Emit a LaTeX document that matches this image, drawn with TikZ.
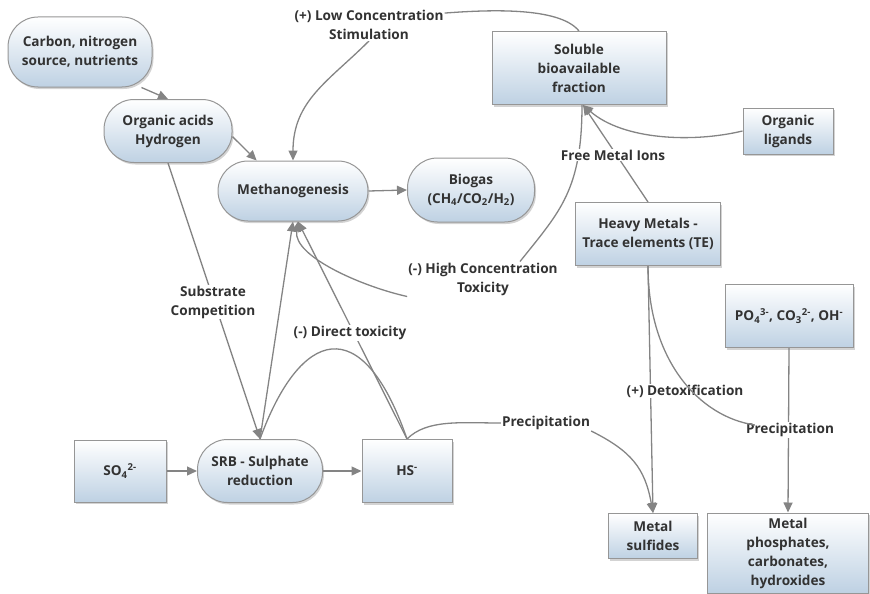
\documentclass[tikz,border=0pt]{standalone}
\usepackage{fontspec}
\setmainfont{Open Sans}
\usetikzlibrary{arrows.meta,shadows,backgrounds}
\definecolor{nodeblue}{RGB}{190,209,227}
\definecolor{linegray}{RGB}{132,132,132}
\definecolor{textgray}{RGB}{50,50,50}
\definecolor{bordergray}{RGB}{150,150,150}
\tikzset{
  concept/.style={draw=bordergray, line width=1pt, top color=white, bottom color=nodeblue,
    drop shadow={shadow xshift=1.5pt, shadow yshift=-2pt, opacity=.35},
    align=center, text=textgray, font=\bfseries\fontsize{13.6}{19}\selectfont, inner sep=2pt},
  pill/.style={concept, rounded corners=30pt},
  box/.style={concept},
  phrase/.style={fill=white, align=center, text=textgray, font=\bfseries\fontsize{13.6}{19}\selectfont, inner sep=1pt},
  link/.style={draw=linegray, line width=1.3pt},
}
\begin{document}
\begin{tikzpicture}[x=1pt, y=1pt, >={Triangle[length=10pt,width=9pt]}]
\useasboundingbox (0,0) rectangle (870,-594);
\node[pill, minimum width=144, minimum height=70] (carbon) at (80,-52) {Carbon, nitrogen\\source, nutrients};
\node[pill, minimum width=128, minimum height=63] (acids) at (168,-131) {Organic acids\\Hydrogen};
\node[pill, minimum width=150, minimum height=60] (meth) at (293,-191) {Methanogenesis};
\node[pill, minimum width=127, minimum height=64] (biogas) at (471,-190) {Biogas\\(CH\textsubscript{4}/CO\textsubscript{2}/H\textsubscript{2})};
\node[box, minimum width=174, minimum height=73] (sol) at (579,-68) {Soluble\\bioavailable\\fraction};
\node[box, minimum width=90, minimum height=46] (lig) at (788,-131) {Organic\\ligands};
\node[box, minimum width=145, minimum height=63] (hm) at (648,-234) {Heavy Metals -\\Trace elements (TE)};
\node[box, minimum width=128, minimum height=63] (po4) at (789,-316) {PO\textsubscript{4}\textsuperscript{3-}, CO\textsubscript{3}\textsuperscript{2-}, OH\textsuperscript{-}};
\node[box, minimum width=92, minimum height=62] (so4) at (120,-471) {SO\textsubscript{4}\textsuperscript{2-}};
\node[pill, minimum width=125, minimum height=63] (srb) at (260,-471) {SRB - Sulphate\\reduction};
\node[box, minimum width=90, minimum height=63] (hs) at (407,-471) {HS\textsuperscript{-}};
\node[box, minimum width=89, minimum height=45] (ms) at (653,-536) {Metal\\sulfides};
\node[box, minimum width=161, minimum height=80] (mp) at (788,-553) {Metal\\phosphates,\\carbonates,\\hydroxides};

\node[phrase] (low) at (369,-25) {(+) Low Concentration\\Stimulation};
\node[phrase] (subst) at (213,-302) {Substrate\\Competition};
\node[phrase] (direct) at (350,-333) {(-) Direct toxicity};
\node[phrase] (high) at (483,-279) {(-) High Concentration\\Toxicity};
\node[phrase] (ions) at (613,-155) {Free Metal Ions};
\node[phrase] (prec1) at (546,-423) {Precipitation};
\node[phrase] (detox) at (685,-391) {(+) Detoxification};
\node[phrase] (prec2) at (790,-430) {Precipitation};

\begin{scope}[on background layer]
\draw[link, ->] (carbon.-30) -- (acids.north);
\draw[link, ->] (acids.-5) -- (meth.140);
\draw[link, ->] (meth.east) -- (biogas.west);
\draw[link, ->] (acids.south) -- (srb.north);
\draw[link, ->] (srb.north) -- (meth.south);
\draw[link, ->] (hs.north) -- ([xshift=5pt]meth.south);
\draw[link] (hs.north) .. controls +(-45,130) and +(40,110) .. (srb.north);
\draw[link, ->] (so4.east) -- (srb.west);
\draw[link, ->] (srb.east) -- (hs.west);
\draw[link] ([xshift=3pt]sol.south) .. controls +(0,-85) and +(40,50) .. ([xshift=37pt]high.north);
\draw[link, ->] (high.south west) .. controls +(-45,10) and +(-5,-35) .. ([xshift=5pt]meth.south);
\draw[link] (sol.north) .. controls +(-20,25) and +(40,3) .. ([yshift=-4pt]low.north east);
\draw[link, ->] (low.south) .. controls +(-40,-40) and +(0,60) .. (meth.north);
\draw[link, ->] (hm.north) -- ([xshift=4pt]sol.south);
\draw[link, ->] (lig.west) .. controls +(-50,-12) and +(40,-35) .. ([xshift=4pt]sol.south);
\draw[link] (hs.north) .. controls +(20,20) and +(-40,0) .. (prec1.west);
\draw[link, ->] (prec1.south east) .. controls +(40,-20) and +(-8,45) .. (ms.north);
\draw[link, ->] (hm.south) -- (ms.north);
\draw[link, ->] (po4.south) -- (mp.north);
\end{scope}
\draw[link] (hm.south) .. controls +(0,-95) and +(-55,8) .. ([xshift=10pt,yshift=-3pt]prec2.north west);
\end{tikzpicture}
\end{document}
